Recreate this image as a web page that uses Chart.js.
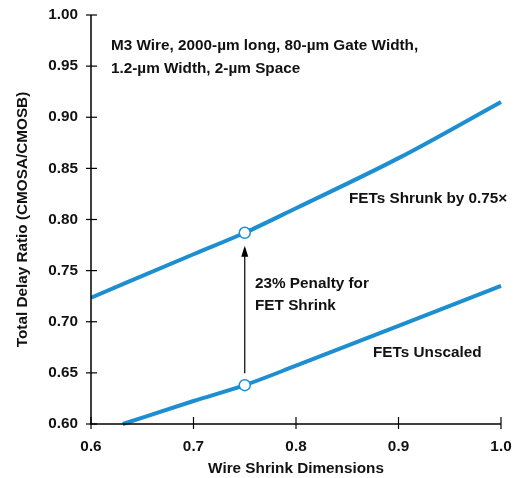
<!DOCTYPE html>
<html>
<head>
<meta charset="utf-8">
<script src="https://cdn.jsdelivr.net/npm/chart.js@4/dist/chart.umd.min.js"></script>
<style>
  html, body { margin: 0; padding: 0; background: #fff; }
  #wrap { width: 516px; height: 478px; position: relative; }
</style>
</head>
<body>
<div id="wrap"><canvas id="grafico"></canvas></div>
<script>
// Dados
const xShrunk = [0.6, 0.7, 0.75, 0.8, 0.9, 1.0];
const yShrunk = [0.7235, 0.766, 0.787, 0.811, 0.860, 0.915];
const xUnscaled = [0.631, 0.7, 0.75, 0.8, 0.9, 1.0];
const yUnscaled = [0.600, 0.6225, 0.638, 0.657, 0.696, 0.735];
const xTicks = [0.6, 0.7, 0.8, 0.9, 1.0];
const yTicks = [0.60, 0.65, 0.70, 0.75, 0.80, 0.85, 0.90, 0.95, 1.00];
const xMarcado = 0.75;

const AZUL = '#1d8fd0';
const FONTE = "'Liberation Sans', Arial, sans-serif";
const TAM = 15.3;

Chart.defaults.font.family = FONTE;
Chart.defaults.color = '#111';

function pontos(xs, ys) {
  return xs.map((x, i) => ({ x: x, y: ys[i] }));
}
function raios(xs) {
  return xs.map(x => x === xMarcado ? 5.5 : 0);
}

// Plugin: eixos com ticks cruzando, seta e textos
const extrasPlugin = {
  id: 'extras',
  afterDatasetsDraw(chart) {
    const ctx = chart.ctx;
    const xs = chart.scales.x, ys = chart.scales.y;
    const a = chart.chartArea;
    ctx.save();
    ctx.strokeStyle = '#000';
    ctx.lineWidth = 1.5;
    ctx.beginPath();
    ctx.moveTo(a.left, a.top); ctx.lineTo(a.left, a.bottom); ctx.lineTo(a.right, a.bottom);
    ctx.stroke();
    ctx.lineWidth = 1.2;
    yTicks.forEach(v => {
      const py = ys.getPixelForValue(v);
      ctx.beginPath(); ctx.moveTo(a.left - 5, py); ctx.lineTo(a.left + 6, py); ctx.stroke();
    });
    xTicks.forEach(v => {
      const px = xs.getPixelForValue(v);
      ctx.beginPath(); ctx.moveTo(px, a.bottom + 5); ctx.lineTo(px, a.bottom - 7); ctx.stroke();
    });

    // seta de penalidade
    const ax = xs.getPixelForValue(xMarcado);
    const yBase = ys.getPixelForValue(yUnscaled[xUnscaled.indexOf(xMarcado)]) - 12;
    const yTopo = ys.getPixelForValue(yShrunk[xShrunk.indexOf(xMarcado)]) + 13;
    ctx.lineWidth = 1.2;
    ctx.beginPath(); ctx.moveTo(ax, yBase); ctx.lineTo(ax, yTopo + 8); ctx.stroke();
    ctx.fillStyle = '#000';
    ctx.beginPath();
    ctx.moveTo(ax, yTopo); ctx.lineTo(ax - 3.5, yTopo + 11); ctx.lineTo(ax + 3.5, yTopo + 11);
    ctx.closePath(); ctx.fill();

    // textos
    ctx.font = "bold " + TAM + "px " + FONTE;
    ctx.fillStyle = '#111';
    ctx.textBaseline = 'middle';
    ctx.textAlign = 'left';
    ctx.fillText('M3 Wire, 2000-µm long, 80-µm Gate Width,', 111, 46);
    ctx.fillText('1.2-µm Width, 2-µm Space', 111, 69);
    ctx.fillText('FETs Shrunk by 0.75×', 349, 199);
    ctx.fillText('23% Penalty for', 255, 284);
    ctx.fillText('FET Shrink', 255, 306);
    ctx.fillText('FETs Unscaled', 373, 353);
    ctx.restore();
  }
};

const grafico = new Chart(document.getElementById('grafico'), {
  type: 'line',
  data: {
    datasets: [
      {
        label: 'FETs Shrunk by 0.75×',
        data: pontos(xShrunk, yShrunk),
        borderColor: AZUL,
        borderWidth: 4,
        cubicInterpolationMode: 'monotone',
        pointRadius: raios(xShrunk),
        pointBackgroundColor: '#fff',
        pointBorderColor: AZUL,
        pointBorderWidth: 1.5
      },
      {
        label: 'FETs Unscaled',
        data: pontos(xUnscaled, yUnscaled),
        borderColor: AZUL,
        borderWidth: 4,
        cubicInterpolationMode: 'monotone',
        pointRadius: raios(xUnscaled),
        pointBackgroundColor: '#fff',
        pointBorderColor: AZUL,
        pointBorderWidth: 1.5
      }
    ]
  },
  options: {
    responsive: true,
    maintainAspectRatio: false,
    animation: false,
    clip: false,
    layout: { padding: { top: 15, right: 15, left: 0, bottom: 0 } },
    plugins: { legend: { display: false }, tooltip: { enabled: false } },
    scales: {
      x: {
        type: 'linear',
        min: 0.6, max: 1.0,
        afterBuildTicks: s => { s.ticks = xTicks.map(v => ({ value: v })); },
        afterFit: s => { s.height = 54; s.paddingLeft = 0; s.paddingRight = 0; },
        grid: { display: false, drawTicks: false },
        border: { display: false },
        ticks: {
          padding: 14,
          font: { size: TAM, weight: 'bold' },
          color: '#111',
          callback: v => v.toFixed(1)
        },
        title: {
          display: true,
          text: 'Wire Shrink Dimensions',
          font: { size: TAM, weight: 'bold' },
          color: '#111',
          padding: { top: 2, bottom: 0 }
        }
      },
      y: {
        type: 'linear',
        min: 0.6, max: 1.0,
        afterBuildTicks: s => { s.ticks = yTicks.map(v => ({ value: v })); },
        afterFit: s => { s.width = 91; s.paddingTop = 0; s.paddingBottom = 0; },
        grid: { display: false, drawTicks: false },
        border: { display: false },
        ticks: {
          padding: 13,
          font: { size: TAM, weight: 'bold' },
          color: '#111',
          callback: v => v.toFixed(2)
        },
        title: {
          display: true,
          text: 'Total Delay Ratio (CMOSA/CMOSB)',
          font: { size: TAM, weight: 'bold' },
          color: '#111',
          padding: { top: 14, bottom: 4 }
        }
      }
    }
  },
  plugins: [extrasPlugin]
});
</script>
</body>
</html>
